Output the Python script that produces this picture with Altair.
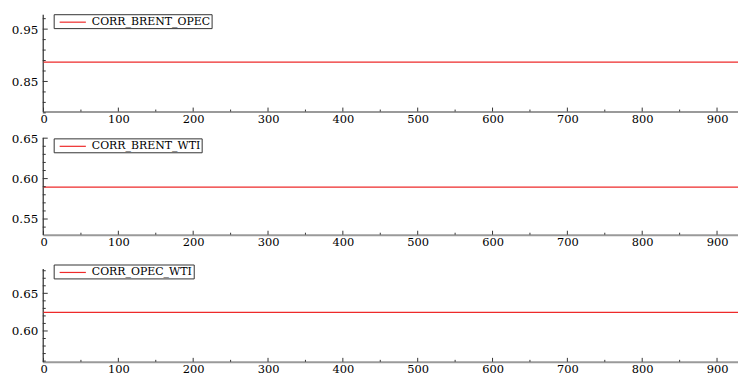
import altair as alt
import pandas as pd

# ---- data ----
series_names = ["CORR_BRENT_OPEC", "CORR_BRENT_WTI", "CORR_OPEC_WTI"]
series_values = [0.887, 0.5895, 0.6248]          # flat correlation levels
obs_start_end = [0, 935]                          # first / last observation index
x_major = [0, 100, 200, 300, 400, 500, 600, 700, 800, 900]
x_minor = [50, 150, 250, 350, 450, 550, 650, 750, 850]
y_domains = [[0.7925, 0.9785], [0.5306, 0.651], [0.559, 0.683]]
y_major = [[0.85, 0.95], [0.55, 0.60, 0.65], [0.60, 0.65]]
y_minor = [
    [0.79, 0.81, 0.83, 0.87, 0.89, 0.91, 0.93, 0.97],
    [0.54, 0.56, 0.57, 0.58, 0.59, 0.61, 0.62, 0.63, 0.64],
    [0.56, 0.57, 0.58, 0.59, 0.61, 0.62, 0.63, 0.64, 0.66, 0.67, 0.68],
]
legend_dy = [0, 1, -4]
heights = [98, 98, 94]

RED = "#ee2a2a"
FONT = "DejaVu Serif"
W = 700
X_DOMAIN = [-1, 928]


def panel(i):
    name = series_names[i]
    h = heights[i]
    xs = alt.Scale(domain=X_DOMAIN, nice=False, zero=False)
    ys = alt.Scale(domain=y_domains[i], nice=False, zero=False)

    line_df = pd.DataFrame({
        "obs": obs_start_end,
        "value": [series_values[i]] * len(obs_start_end),
        "series": [name] * len(obs_start_end),
    })
    line = alt.Chart(line_df).mark_line(strokeWidth=1.2, clip=True).encode(
        x=alt.X("obs:Q", scale=xs,
                axis=alt.Axis(values=x_major, title=None, tickSize=0, labelPadding=2,
                              domainColor="#9a9a9a", domainWidth=2, grid=False,
                              labelFont=FONT, labelFontSize=11.5, labelColor="black",
                              labelFlush=False)),
        y=alt.Y("value:Q", scale=ys,
                axis=alt.Axis(values=y_major[i], format=".2f", title=None, tickSize=0,
                              labelPadding=5, domainColor="#555555", domainWidth=1.5,
                              grid=False, labelFont=FONT, labelFontSize=12,
                              labelColor="black", labelFlush=False)),
        color=alt.Color("series:N",
                        scale=alt.Scale(domain=[name], range=[RED]),
                        legend=alt.Legend(orient="none", legendX=11, legendY=legend_dy[i],
                                          title=None, symbolType="M-2.2,0H2.2",
                                          symbolSize=144, symbolStrokeWidth=1.2,
                                          symbolOffset=11.2, labelOffset=12.2,
                                          labelFont=FONT, labelFontSize=11,
                                          labelColor="black", padding=1,
                                          strokeColor="#333333", fillColor="white",
                                          cornerRadius=0)),
    )

    xmaj = alt.Chart(pd.DataFrame({"t": x_major})).mark_rule(color="#333", strokeWidth=1).encode(
        x=alt.X("t:Q", scale=xs), y=alt.value(h), y2=alt.value(h - 4))
    xmin = alt.Chart(pd.DataFrame({"t": x_minor})).mark_rule(color="#333", strokeWidth=1).encode(
        x=alt.X("t:Q", scale=xs), y=alt.value(h), y2=alt.value(h - 2))
    ymaj = alt.Chart(pd.DataFrame({"t": y_major[i]})).mark_rule(color="#333", strokeWidth=1).encode(
        y=alt.Y("t:Q", scale=ys), x=alt.value(0), x2=alt.value(5))
    ymin = alt.Chart(pd.DataFrame({"t": y_minor[i]})).mark_rule(color="#333", strokeWidth=1).encode(
        y=alt.Y("t:Q", scale=ys), x=alt.value(0), x2=alt.value(3))

    return alt.layer(line, xmin, xmaj, ymin, ymaj).properties(width=W, height=h)


top = alt.vconcat(panel(0), panel(1), spacing=6).resolve_scale(color="independent")
chart = (
    alt.vconcat(top, panel(2), spacing=15)
    .resolve_scale(color="independent")
    .properties(padding={"top": 4, "left": 3, "right": 0, "bottom": 0},
                background="white")
    .configure_view(stroke=None, strokeWidth=0)
)

chart.save("out.html", embed_options={"renderer": "svg", "actions": False})
